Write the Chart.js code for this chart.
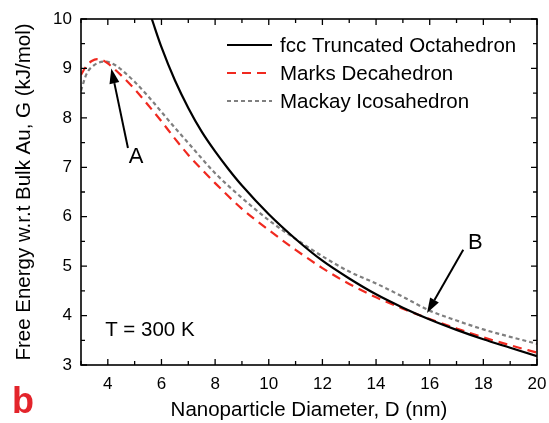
<!DOCTYPE html>
<html>
<head>
<meta charset="utf-8">
<script src="https://cdn.jsdelivr.net/npm/chart.js@4.4.1/dist/chart.umd.min.js"></script>
<style>
  html, body { margin: 0; padding: 0; background: #fff; }
  #wrap { width: 549px; height: 423px; position: relative; }
</style>
</head>
<body>
<div id="wrap"><canvas id="c" width="549" height="423"></canvas></div>
<script>
// ---- data ----
const seriesNames = ["fcc Truncated Octahedron", "Marks Decahedron", "Mackay Icosahedron"];

const fccD = [5.64, 6, 6.5, 7, 7.5, 8, 8.5, 9, 10, 11, 12, 13, 14, 15, 16, 17, 18, 19, 20];
const fccG = [10, 9.43, 8.76, 8.2, 7.72, 7.32, 6.96, 6.63, 6.05, 5.55, 5.11, 4.75, 4.43, 4.16, 3.92, 3.71, 3.52, 3.35, 3.18];

const decaD = [3, 3.2, 3.4, 3.6, 3.8, 4, 4.5, 5, 5.5, 6, 6.5, 7, 7.5, 8, 9, 10, 11, 12, 13, 14, 15, 16, 17, 18, 19, 20];
const decaG = [8.87, 9.05, 9.15, 9.19, 9.17, 9.1, 8.86, 8.58, 8.26, 7.93, 7.58, 7.25, 6.96, 6.68, 6.16, 5.73, 5.33, 4.96, 4.64, 4.37, 4.14, 3.93, 3.74, 3.56, 3.4, 3.25];

const icoD = [3, 3.2, 3.5, 3.9, 4.3, 4.6, 5, 5.5, 6, 6.5, 7, 7.5, 8, 9, 10, 11, 12, 13, 14, 15, 16, 17, 18, 19, 20];
const icoG = [8.55, 8.88, 9.07, 9.14, 9.06, 8.93, 8.73, 8.44, 8.12, 7.8, 7.49, 7.18, 6.88, 6.38, 5.93, 5.55, 5.2, 4.89, 4.65, 4.38, 4.1, 3.9, 3.72, 3.57, 3.43];

const xTickValues = [4, 6, 8, 10, 12, 14, 16, 18, 20];
const yTickValues = [3, 4, 5, 6, 7, 8, 9, 10];

const xTitle = "Nanoparticle Diameter, D (nm)";
const yTitle = "Free Energy w.r.t Bulk Au, G (kJ/mol)";

// annotations (data coordinates)
const arrowA = { from: [4.75, 7.39], to: [4.13, 9.0], label: "A", labelAt: [5.05, 7.2] };
const arrowB = { from: [17.25, 5.33], to: [15.9, 4.05], label: "B", labelAt: [17.7, 5.47] };
const tempNote = { text: "T = 300 K", at: [3.9, 3.71] };
const panelLabel = "b";

// ---- chart ----
const FONT = "'Liberation Sans', Arial, Helvetica, sans-serif";
const pts = (xs, ys) => xs.map((x, i) => ({ x: x, y: ys[i] }));

const decoPlugin = {
  id: 'deco',
  afterDraw(chart) {
    const ctx = chart.ctx;
    const xs = chart.scales.x, ys = chart.scales.y;
    const a = chart.chartArea;
    ctx.save();
    // frame
    ctx.strokeStyle = '#000';
    ctx.lineWidth = 1.6;
    ctx.strokeRect(a.left, a.top, a.right - a.left, a.bottom - a.top);
    // inward ticks
    ctx.lineWidth = 1.3;
    ctx.beginPath();
    for (let v = xs.min; v <= xs.max + 1e-9; v += 1) {
      const px = xs.getPixelForValue(v);
      const len = (v % 2 === 0) ? 6 : 4;
      ctx.moveTo(px, a.bottom); ctx.lineTo(px, a.bottom - len);
      ctx.moveTo(px, a.top); ctx.lineTo(px, a.top + len);
    }
    for (let v = ys.min; v <= ys.max + 1e-9; v += 0.5) {
      const py = ys.getPixelForValue(v);
      const len = (Math.abs(v - Math.round(v)) < 1e-9) ? 6 : 4;
      ctx.moveTo(a.left, py); ctx.lineTo(a.left + len, py);
      ctx.moveTo(a.right, py); ctx.lineTo(a.right - len, py);
    }
    ctx.stroke();

    // legend
    ctx.font = '20.5px ' + FONT;
    ctx.textBaseline = 'middle';
    ctx.textAlign = 'left';
    const rowY = [45, 73, 101];
    chart.data.datasets.forEach((ds, i) => {
      ctx.save();
      ctx.strokeStyle = ds.borderColor;
      ctx.lineWidth = ds.borderWidth;
      ctx.setLineDash(ds.borderDash || []);
      ctx.beginPath();
      ctx.moveTo(227, rowY[i]); ctx.lineTo(272, rowY[i]);
      ctx.stroke();
      ctx.restore();
      ctx.fillStyle = '#000';
      ctx.fillText(ds.label, 280, rowY[i] + 1);
    });

    // arrows
    const drawArrow = (ar) => {
      const x1 = xs.getPixelForValue(ar.from[0]), y1 = ys.getPixelForValue(ar.from[1]);
      const x2 = xs.getPixelForValue(ar.to[0]), y2 = ys.getPixelForValue(ar.to[1]);
      const ang = Math.atan2(y2 - y1, x2 - x1);
      const hl = 15, hw = 5;
      const bx = x2 - hl * Math.cos(ang), by = y2 - hl * Math.sin(ang);
      ctx.strokeStyle = '#000';
      ctx.fillStyle = '#000';
      ctx.lineWidth = 2;
      ctx.beginPath();
      ctx.moveTo(x1, y1); ctx.lineTo(bx, by);
      ctx.stroke();
      ctx.beginPath();
      ctx.moveTo(x2, y2);
      ctx.lineTo(bx + hw * Math.sin(ang), by - hw * Math.cos(ang));
      ctx.lineTo(bx - hw * Math.sin(ang), by + hw * Math.cos(ang));
      ctx.closePath();
      ctx.fill();
      ctx.font = '22px ' + FONT;
      ctx.textAlign = 'center';
      ctx.textBaseline = 'middle';
      ctx.fillText(ar.label, xs.getPixelForValue(ar.labelAt[0]), ys.getPixelForValue(ar.labelAt[1]));
    };
    drawArrow(arrowA);
    drawArrow(arrowB);

    ctx.font = '20.5px ' + FONT;
    ctx.textAlign = 'left';
    ctx.textBaseline = 'middle';
    ctx.fillStyle = '#000';
    ctx.fillText(tempNote.text, xs.getPixelForValue(tempNote.at[0]), ys.getPixelForValue(tempNote.at[1]));

    ctx.font = 'bold 36px ' + FONT;
    ctx.fillStyle = '#e3242b';
    ctx.textBaseline = 'alphabetic';
    ctx.fillText(panelLabel, 12, 413);
    ctx.restore();
  }
};

new Chart(document.getElementById('c'), {
  type: 'line',
  data: {
    datasets: [
      { label: seriesNames[0], data: pts(fccD, fccG), borderColor: '#000000', borderWidth: 2.2, borderDash: [], pointRadius: 0, fill: false, cubicInterpolationMode: 'monotone' },
      { label: seriesNames[1], data: pts(decaD, decaG), borderColor: '#f0291f', borderWidth: 2.2, borderDash: [9, 6], pointRadius: 0, fill: false, cubicInterpolationMode: 'monotone' },
      { label: seriesNames[2], data: pts(icoD, icoG), borderColor: '#7f7f7f', borderWidth: 2.2, borderDash: [4, 3], pointRadius: 0, fill: false, cubicInterpolationMode: 'monotone' }
    ]
  },
  options: {
    responsive: false,
    animation: false,
    events: [],
    layout: { padding: { top: 19, right: 12, left: 0, bottom: 0 } },
    plugins: { legend: { display: false }, tooltip: { enabled: false } },
    scales: {
      x: {
        type: 'linear', min: 3, max: 20,
        grid: { display: false, drawTicks: false },
        border: { display: false },
        afterBuildTicks: (s) => { s.ticks = xTickValues.map(v => ({ value: v })); },
        afterFit: (s) => { s.height = 58; s.paddingRight = 0; s.paddingLeft = 0; },
        ticks: { padding: 9, color: '#000', font: { family: FONT, size: 17 }, maxRotation: 0, autoSkip: false },
        title: { display: true, text: xTitle, color: '#000', font: { family: FONT, size: 20.5 }, padding: { top: 0, bottom: 0 } }
      },
      y: {
        type: 'linear', min: 3, max: 10,
        grid: { display: false, drawTicks: false },
        border: { display: false },
        afterBuildTicks: (s) => { s.ticks = yTickValues.map(v => ({ value: v })); },
        afterFit: (s) => { s.width = 81; s.paddingTop = 0; s.paddingBottom = 0; },
        ticks: { padding: 9, color: '#000', font: { family: FONT, size: 17 }, autoSkip: false },
        title: { display: true, text: yTitle, color: '#000', font: { family: FONT, size: 20.5 }, padding: { top: 12, bottom: 0 } }
      }
    }
  },
  plugins: [decoPlugin]
});
</script>
</body>
</html>
